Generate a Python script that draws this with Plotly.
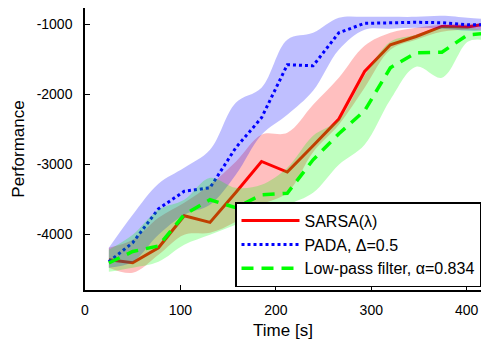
import plotly.graph_objects as go

time = [25, 50, 77, 104, 131, 158, 185, 212, 239, 266, 293, 320, 347, 374, 401, 415]

sarsa = [-4367, -4410, -4196, -3739, -3834, -3407, -2963, -3114, -2739, -2357, -1677, -1296, -1177, -1034, -1043, -1010]
sarsa_hi = [-4196, -4082, -3767, -3553, -3296, -2967, -2581, -2553, -2153, -1767, -1310, -1124, -1053, -1010, -996, -996]
sarsa_lo = [-4481, -4553, -4296, -4010, -3981, -3824, -3581, -3410, -2830, -2439, -1910, -1367, -1224, -1110, -1081, -1081]

pada = [-4396, -4124, -3640, -3389, -3339, -2767, -2339, -1581, -1596, -1124, -989, -981, -974, -981, -1010, -1010]
pada_hi = [-4196, -3724, -3281, -3053, -2796, -2124, -1910, -1224, -1124, -910, -896, -896, -896, -881, -910, -924]
pada_lo = [-4481, -4396, -4010, -3724, -3581, -3153, -2581, -2296, -1953, -1367, -1081, -1067, -1053, -1067, -1096, -1096]

lowpass = [-4414, -4250, -4170, -3724, -3510, -3624, -3440, -3417, -2939, -2567, -2239, -1624, -1410, -1403, -1153, -1139]
lowpass_hi = [-4224, -4010, -3653, -3510, -3196, -3339, -3296, -3053, -2596, -2367, -1739, -1253, -1153, -1039, -1053, -1081]
lowpass_lo = [-4539, -4481, -4396, -4153, -4010, -3867, -3724, -3581, -3410, -3010, -2724, -2081, -1610, -1767, -1253, -1224]

names = ["SARSA(λ)", "PADA, Δ=0.5", "Low-pass filter, α=0.834"]
x_ticks = [0, 100, 200, 300, 400]
y_ticks = [-4000, -3000, -2000, -1000]
y_ticklabels = ["-4000", "-3000", "-2000", "-1000"]

series = [
    (sarsa, sarsa_lo, sarsa_hi, "rgb(255,0,0)", "rgba(255,0,0,0.25)", "solid", 3),
    (pada, pada_lo, pada_hi, "rgb(0,0,255)", "rgba(0,0,255,0.25)", "dot", 3),
    (lowpass, lowpass_lo, lowpass_hi, "rgb(0,255,0)", "rgba(0,255,0,0.25)", "12px,8px", 3.5),
]

fig = go.Figure()
for i, (name, (mid, lo, hi, col, fcol, dash, w)) in enumerate(zip(names, series)):
    fig.add_trace(go.Scatter(x=time, y=lo, mode="lines", line=dict(width=0, shape="spline"),
                             showlegend=False, hoverinfo="skip"))
    fig.add_trace(go.Scatter(x=time, y=hi, mode="lines", line=dict(width=0, shape="spline"),
                             fill="tonexty", fillcolor=fcol, showlegend=False, hoverinfo="skip"))
    fig.add_trace(go.Scatter(x=time, y=mid, mode="lines", name=name, legendgroup="g%d" % i,
                             line=dict(color=col, width=w, dash=dash)))

font = "Arial"
fig.update_layout(
    width=481, height=343,
    margin=dict(l=85, r=0, t=8, b=53),
    paper_bgcolor="white", plot_bgcolor="white",
    font=dict(family=font, size=14, color="black"),
    showlegend=True,
    legend=dict(x=1, y=0.01, xanchor="right", yanchor="bottom",
                bgcolor="white", bordercolor="black", borderwidth=1.5,
                font=dict(size=16), traceorder="normal", tracegroupgap=8,
                itemwidth=58),
    xaxis=dict(range=[0, 415], tickvals=x_ticks, ticks="inside", ticklen=5,
               tickcolor="black", showline=True, linecolor="black", linewidth=1.5,
               showgrid=False, zeroline=False, ticklabelstandoff=6,
               title=dict(text="Time [s]", standoff=8)),
    yaxis=dict(range=[-4800, -770], tickvals=y_ticks, ticktext=y_ticklabels, ticks="inside", ticklen=5,
               tickcolor="black", showline=True, linecolor="black", linewidth=1.5,
               showgrid=False, zeroline=False, ticklabelstandoff=8,
               title=dict(text="Performance", standoff=8)),
)
fig.write_html("out.html")
